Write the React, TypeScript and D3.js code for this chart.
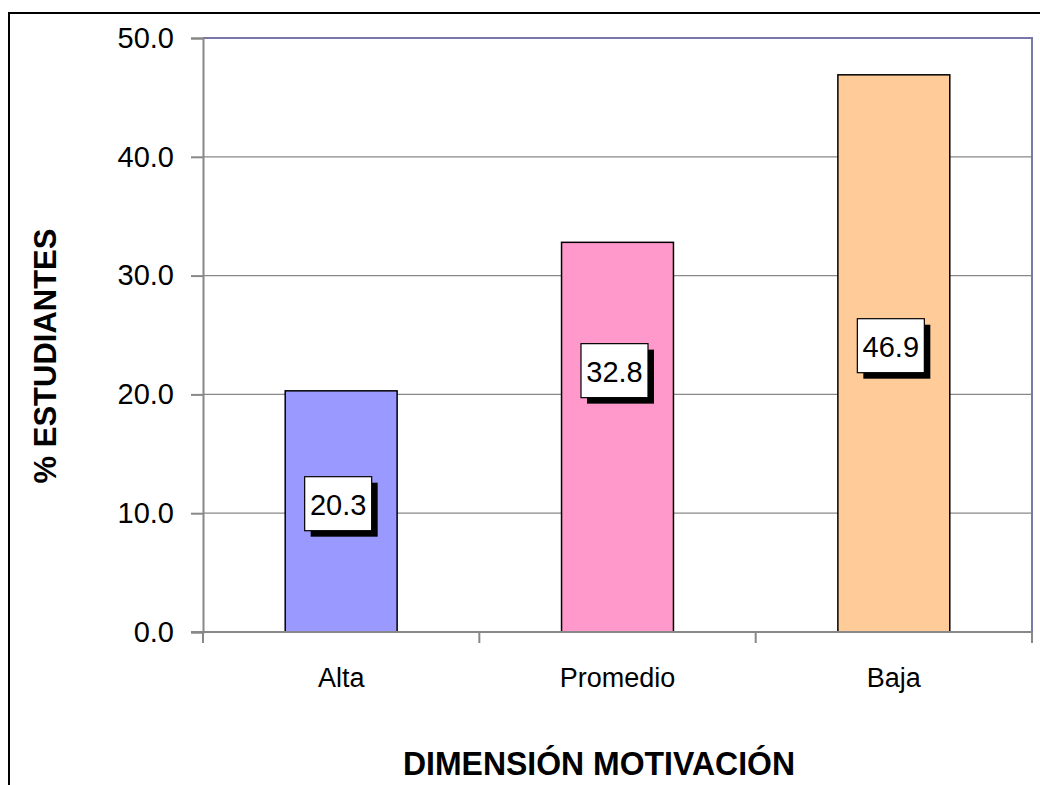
import React, { useEffect, useRef } from "react";
import * as d3 from "d3";

const categories = ["Alta", "Promedio", "Baja"];
const values = [20.3, 32.8, 46.9];
const barColors = ["#9999ff", "#ff99cc", "#ffcc99"];
const yTicks = [0, 10, 20, 30, 40, 50];
// where each value label sits, in axis units
const labelAt = [10.8, 22.0, 24.1];

const W = 1040;
const H = 785;

const App: React.FC = () => {
  const svgRef = useRef<SVGSVGElement>(null);

  useEffect(() => {
    if (!svgRef.current) return;
    const svg = d3.select(svgRef.current);
    svg.selectAll("*").remove();

    const font = "'Liberation Sans', Arial, sans-serif";
    const plot = { left: 203, top: 38, right: 1032, bottom: 632 };

    // outer frame
    svg
      .append("rect")
      .attr("x", 9)
      .attr("y", 13)
      .attr("width", W + 20)
      .attr("height", H + 20)
      .attr("fill", "white")
      .attr("stroke", "black")
      .attr("stroke-width", 2);

    const x = d3
      .scaleBand()
      .domain(categories)
      .range([plot.left, plot.right])
      .paddingInner(0.595)
      .paddingOuter(0.2975);

    const y = d3.scaleLinear().domain([0, 50]).range([plot.bottom, plot.top]);

    // gridlines
    svg
      .append("g")
      .selectAll("line")
      .data(yTicks.filter((t) => t > 0 && t < 50))
      .enter()
      .append("line")
      .attr("x1", plot.left)
      .attr("x2", plot.right)
      .attr("y1", (d) => y(d))
      .attr("y2", (d) => y(d))
      .attr("stroke", "#888888")
      .attr("stroke-width", 1.3);

    // plot border top/right
    svg
      .append("path")
      .attr("d", `M${plot.left},${plot.top}H${plot.right}V${plot.bottom}`)
      .attr("fill", "none")
      .attr("stroke", "#7878a8")
      .attr("stroke-width", 2);

    // bars
    svg
      .append("g")
      .selectAll("rect")
      .data(values)
      .enter()
      .append("rect")
      .attr("x", (_, i) => x(categories[i]) || 0)
      .attr("y", (d) => y(d))
      .attr("width", x.bandwidth())
      .attr("height", (d) => plot.bottom - y(d))
      .attr("fill", (_, i) => barColors[i])
      .attr("stroke", "black")
      .attr("stroke-width", 1.5);

    // y axis
    const yAxis = d3
      .axisLeft(y)
      .tickValues(yTicks)
      .tickSize(12)
      .tickPadding(17)
      .tickFormat((d) => d3.format(".1f")(d as number));
    const gy = svg
      .append("g")
      .attr("transform", `translate(${plot.left},0)`)
      .call(yAxis);
    gy.attr("font-size", null).attr("font-family", null);
    gy.select(".domain").attr("stroke", "#888888").attr("stroke-width", 2);
    gy.selectAll(".tick line").attr("stroke", "#888888").attr("stroke-width", 2);
    gy.selectAll(".tick text")
      .attr("font-family", font)
      .attr("font-size", 29)
      .attr("fill", "black");

    // x axis
    const gx = svg.append("g").attr("transform", `translate(0,${plot.bottom})`);
    gx.append("line")
      .attr("x1", plot.left - 12)
      .attr("x2", plot.right)
      .attr("stroke", "#888888")
      .attr("stroke-width", 2);
    const edges = d3
      .range(categories.length + 1)
      .map((i) => plot.left + i * x.step());
    gx.selectAll(".xt")
      .data(edges)
      .enter()
      .append("line")
      .attr("x1", (d) => d)
      .attr("x2", (d) => d)
      .attr("y1", 0)
      .attr("y2", 11)
      .attr("stroke", "#888888")
      .attr("stroke-width", 2);
    gx.selectAll(".xl")
      .data(categories)
      .enter()
      .append("text")
      .attr("x", (d) => (x(d) || 0) + x.bandwidth() / 2)
      .attr("y", 55)
      .attr("text-anchor", "middle")
      .attr("font-family", font)
      .attr("font-size", 27)
      .text((d) => d);

    // value labels with shadow box
    const bw = 67;
    const bh = 54;
    const lab = svg
      .append("g")
      .selectAll("g")
      .data(values)
      .enter()
      .append("g")
      .attr(
        "transform",
        (_, i) =>
          `translate(${(x(categories[i]) || 0) + x.bandwidth() / 2 - 3},${y(
            labelAt[i]
          )})`
      );
    lab
      .append("rect")
      .attr("x", -bw / 2 + 6)
      .attr("y", -bh / 2 + 6)
      .attr("width", bw)
      .attr("height", bh)
      .attr("fill", "black");
    lab
      .append("rect")
      .attr("x", -bw / 2)
      .attr("y", -bh / 2)
      .attr("width", bw)
      .attr("height", bh)
      .attr("fill", "white")
      .attr("stroke", "black")
      .attr("stroke-width", 1.2);
    lab
      .append("text")
      .attr("y", 11)
      .attr("text-anchor", "middle")
      .attr("font-family", font)
      .attr("font-size", 29)
      .text((d) => d3.format(".1f")(d));

    // axis titles
    svg
      .append("text")
      .attr("transform", `translate(56,356) rotate(-90)`)
      .attr("text-anchor", "middle")
      .attr("font-family", font)
      .attr("font-weight", "bold")
      .attr("font-size", 31)
      .text("% ESTUDIANTES");

    svg
      .append("text")
      .attr("x", 599)
      .attr("y", 775)
      .attr("text-anchor", "middle")
      .attr("font-family", font)
      .attr("font-weight", "bold")
      .attr("font-size", 34)
      .attr("textLength", 392)
      .attr("lengthAdjust", "spacingAndGlyphs")
      .text("DIMENSIÓN MOTIVACIÓN");
  }, []);

  return (
    <svg
      ref={svgRef}
      width={W}
      height={H}
      style={{ position: "absolute", left: 0, top: 0, display: "block" }}
    />
  );
};

export default App;
